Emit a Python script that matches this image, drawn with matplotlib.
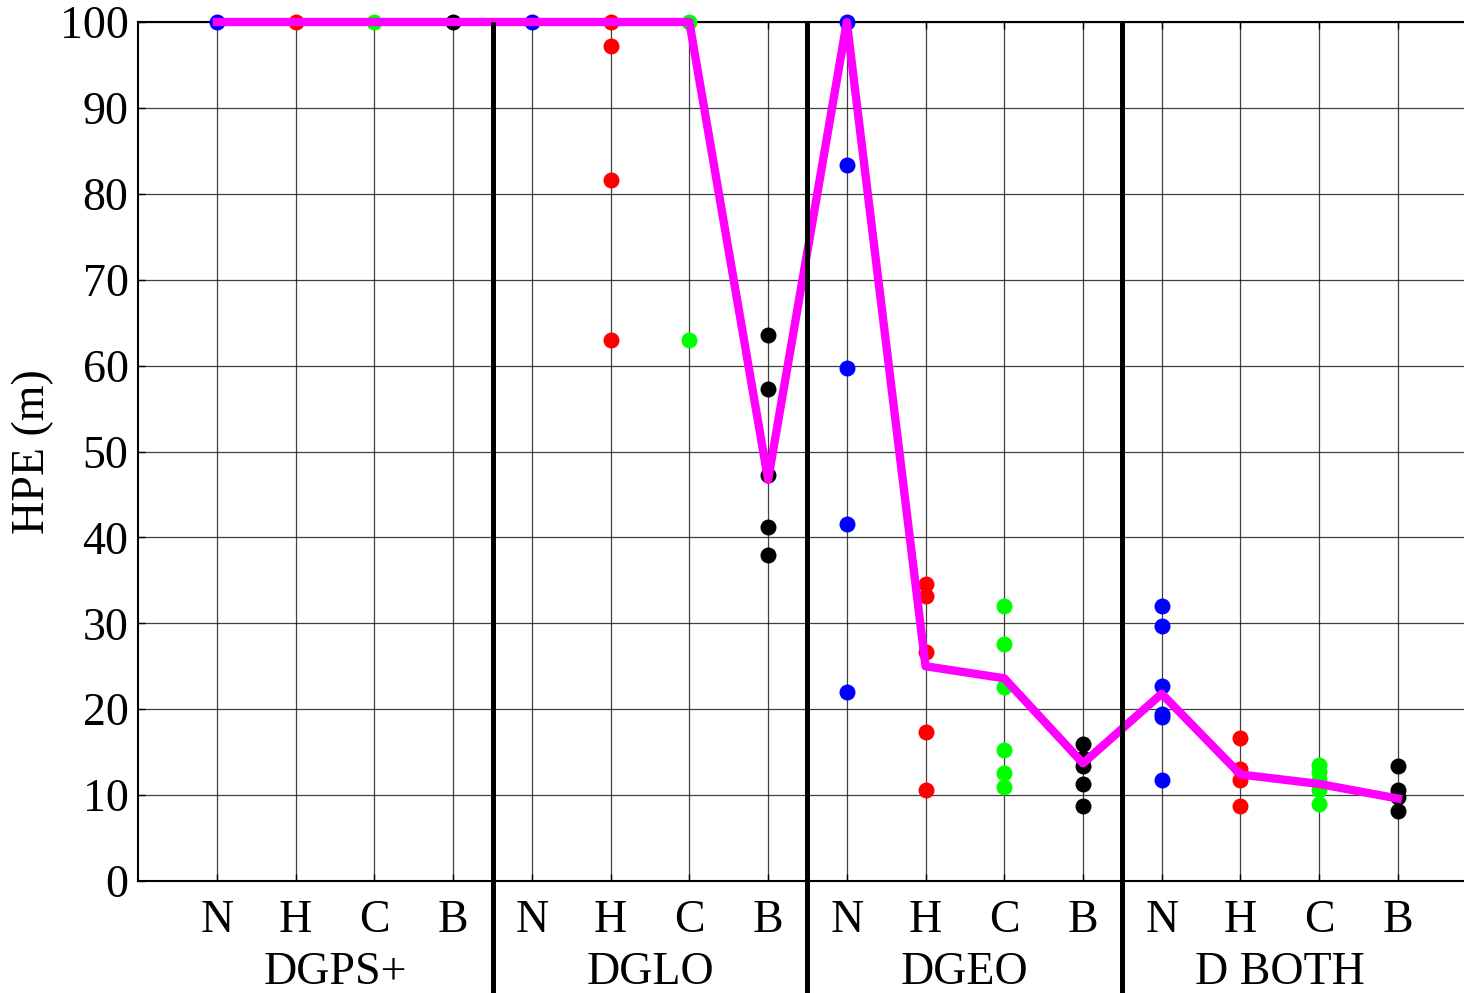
import matplotlib
matplotlib.use("Agg")
import matplotlib.pyplot as plt
from matplotlib.transforms import blended_transform_factory

plt.rcParams['font.family'] = ['Liberation Serif', 'DejaVu Serif']

groups = ["DGPS+", "DGLO", "DGEO", "D BOTH"]
cats = ["N", "H", "C", "B"]
cat_colors = ["#0000FF", "#FF0000", "#00FF00", "#000000"]

# scatter values per group, per category (N, H, C, B)
dgps_pts = [[100], [100], [100], [100]]
dglo_pts = [[100], [100, 97.2, 81.6, 63.0], [100, 63.0], [63.6, 57.3, 47.3, 41.2, 37.9]]
dgeo_pts = [[100, 83.3, 59.7, 41.6, 22.0],
            [34.6, 33.2, 26.7, 17.3, 10.6],
            [32.0, 27.6, 22.6, 15.2, 12.6, 11.0],
            [16.0, 14.3, 13.4, 11.3, 8.7]]
dboth_pts = [[32.0, 29.7, 22.7, 19.4, 19.1, 11.8],
             [16.6, 13.0, 11.7, 8.7],
             [13.5, 12.7, 11.8, 10.6, 9.0],
             [13.4, 10.6, 9.8, 8.2]]
all_pts = [dgps_pts, dglo_pts, dgeo_pts, dboth_pts]

# magenta summary line
line_vals = [100, 100, 100, 100, 100, 100, 100, 46.7,
             100, 25.0, 23.6, 13.7, 21.8, 12.4, 11.3, 9.6]

fig = plt.figure(figsize=(14.64, 9.93), dpi=100)
ax = fig.add_axes([138.3 / 1464, 112 / 993, 1 - 138.3 / 1464, 859 / 993])

positions = list(range(1, 17))
for gi, gpts in enumerate(all_pts):
    for ci, vals in enumerate(gpts):
        xpos = positions[gi * 4 + ci]
        ax.plot([xpos] * len(vals), vals, 'o', color=cat_colors[ci],
                markersize=11.5, markeredgewidth=0, zorder=3, clip_on=False)

ax.plot(positions, line_vals, color='#FF00FF', lw=6, zorder=4,
        solid_joinstyle='round', clip_on=False)

# separators
for xs in [4.5, 8.5, 12.5]:
    ax.plot([xs, xs], [100, -14], color='black', lw=3.6, zorder=5,
            clip_on=False, solid_capstyle='butt')

ax.set_xlim(0, 16.84)
ax.set_ylim(0, 100)
ax.set_yticks(range(0, 101, 10))
ax.set_xticks(positions)
ax.set_xticklabels(cats * 4)
ax.tick_params(axis='both', labelsize=33, direction='in', length=5, width=1)
ax.tick_params(axis='x', pad=13)
ax.tick_params(axis='y', pad=7)
ax.tick_params(top=True)
ax.grid(True, color='black', lw=0.9, alpha=0.75)
ax.set_axisbelow(True)
ax.spines['right'].set_visible(False)
for s in ['left', 'top', 'bottom']:
    ax.spines[s].set_linewidth(1.5)

ax.set_ylabel("HPE (m)", fontsize=33, labelpad=4)

trans = blended_transform_factory(ax.transData, fig.transFigure)
for gi, g in enumerate(groups):
    ax.text(gi * 4 + 2.5, 1 - 973 / 993, g, transform=trans, fontsize=33,
            ha='center', va='center')

fig.savefig("out.png", dpi=100)
